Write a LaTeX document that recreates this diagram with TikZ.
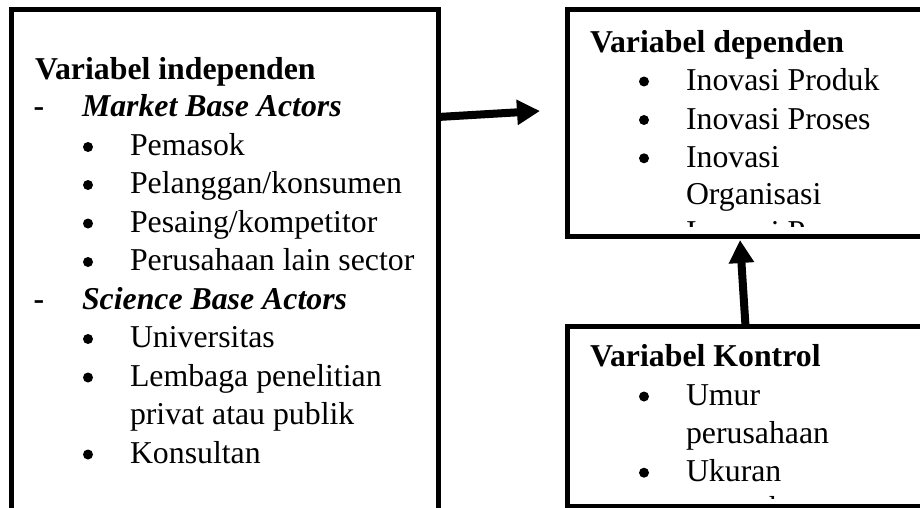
\documentclass[tikz,border=0pt]{standalone}
\usepackage{fontspec}
\setmainfont{Liberation Serif}
\usetikzlibrary{arrows.meta}
\tikzset{
 boxnode/.style={draw, rectangle, line width=5pt, outer sep=0pt, inner sep=0pt, anchor=north west},
 txt/.style={anchor=base west, inner sep=0pt, outer sep=0pt, font=\fontsize{31.8}{38}\selectfont},
 head/.style={anchor=base west, inner sep=0pt, outer sep=0pt, font=\fontsize{31.8}{38}\selectfont\bfseries},
 subhead/.style={anchor=base west, inner sep=0pt, outer sep=0pt, font=\fontsize{31.8}{38}\selectfont\bfseries\itshape},
 bul/.style={circle, fill=black, inner sep=0pt, outer sep=0pt, minimum size=10pt},
 arr/.style={line width=8pt, -{Triangle[length=23pt,width=24pt]}},
}
\begin{document}
\begin{tikzpicture}[x=1pt,y=-1pt]
\useasboundingbox (0,0) rectangle (920,508);
\clip (0,0) rectangle (920,508);
\fill[white] (0,0) rectangle (920,508);
% boxes
\node[boxnode, minimum width=426.5pt, minimum height=600pt] (indep) at (11.5,10) {};
\node[boxnode, minimum width=500pt, minimum height=226.5pt] (dep) at (567,9.5) {};
\node[boxnode, minimum width=500pt, minimum height=180.5pt] (ctrl) at (567,326) {};
% left text
\node[head] (i0) at (35,80) {Variabel independen};
\node[head] (id1) at (33.5,117) {-};
\node[subhead] (is1) at (82,117) {Market Base Actors};
\node[bul] (ib1) at (88,147) {};   \node[txt] (it1) at (130,155) {Pemasok};
\node[bul] (ib2) at (88,185) {};   \node[txt] (it2) at (130,193.5) {Pelanggan/konsumen};
\node[bul] (ib3) at (88,223.5) {}; \node[txt] (it3) at (130,232) {Pesaing/kompetitor};
\node[bul] (ib4) at (88,262) {};   \node[txt] (it4) at (130,270.5) {Perusahaan lain sector};
\node[head] (id2) at (33.5,309) {-};
\node[subhead] (is2) at (82,309) {Science Base Actors};
\node[bul] (ib5) at (88,339) {};   \node[txt] (it5) at (130,347.5) {Universitas};
\node[bul] (ib6) at (88,377.5) {}; \node[txt] (it6) at (130,386) {Lembaga penelitian};
\node[txt] (it7) at (130,424.5) {privat atau publik};
\node[bul] (ib7) at (88,454.5) {}; \node[txt] (it8) at (130,463) {Konsultan};
% dependent box text
\begin{scope}
\clip (569.5,12) rectangle (920,226);
\node[head] (d0) at (590,52.7) {Variabel dependen};
\node[bul] (db1) at (644,81.5) {};  \node[txt] (dt1) at (686,90.7) {Inovasi Produk};
\node[bul] (db2) at (644,120) {};   \node[txt] (dt2) at (686,129) {Inovasi Proses};
\node[bul] (db3) at (644,158.3) {}; \node[txt] (dt3) at (686,167.3) {Inovasi};
\node[txt] (dt4) at (686,204) {Organisasi};
\node[txt] (dt5) at (686,242.5) {Inovasi Pemasaran};
\end{scope}
% control box text
\begin{scope}
\clip (569.5,328.5) rectangle (920,498);
\node[head] (c0) at (590,366.7) {Variabel Kontrol};
\node[bul] (cb1) at (644,396.5) {}; \node[txt] (ct1) at (686,405.5) {Umur};
\node[txt] (ct2) at (686,443) {perusahaan};
\node[bul] (cb2) at (644,472.7) {}; \node[txt] (ct3) at (686,481.7) {Ukuran};
\node[txt] (ct4) at (686,518) {perusahaan};
\end{scope}
% arrows
\coordinate (hy) at (0,117);
\coordinate (htip) at (540,111);
\coordinate (vx) at (745.5,0);
\coordinate (vtip) at (740,240);
\draw[arr] (indep.north east |- hy) -- (htip);
\draw[arr] (ctrl.north west -| vx) -- (vtip);
\end{tikzpicture}
\end{document}
